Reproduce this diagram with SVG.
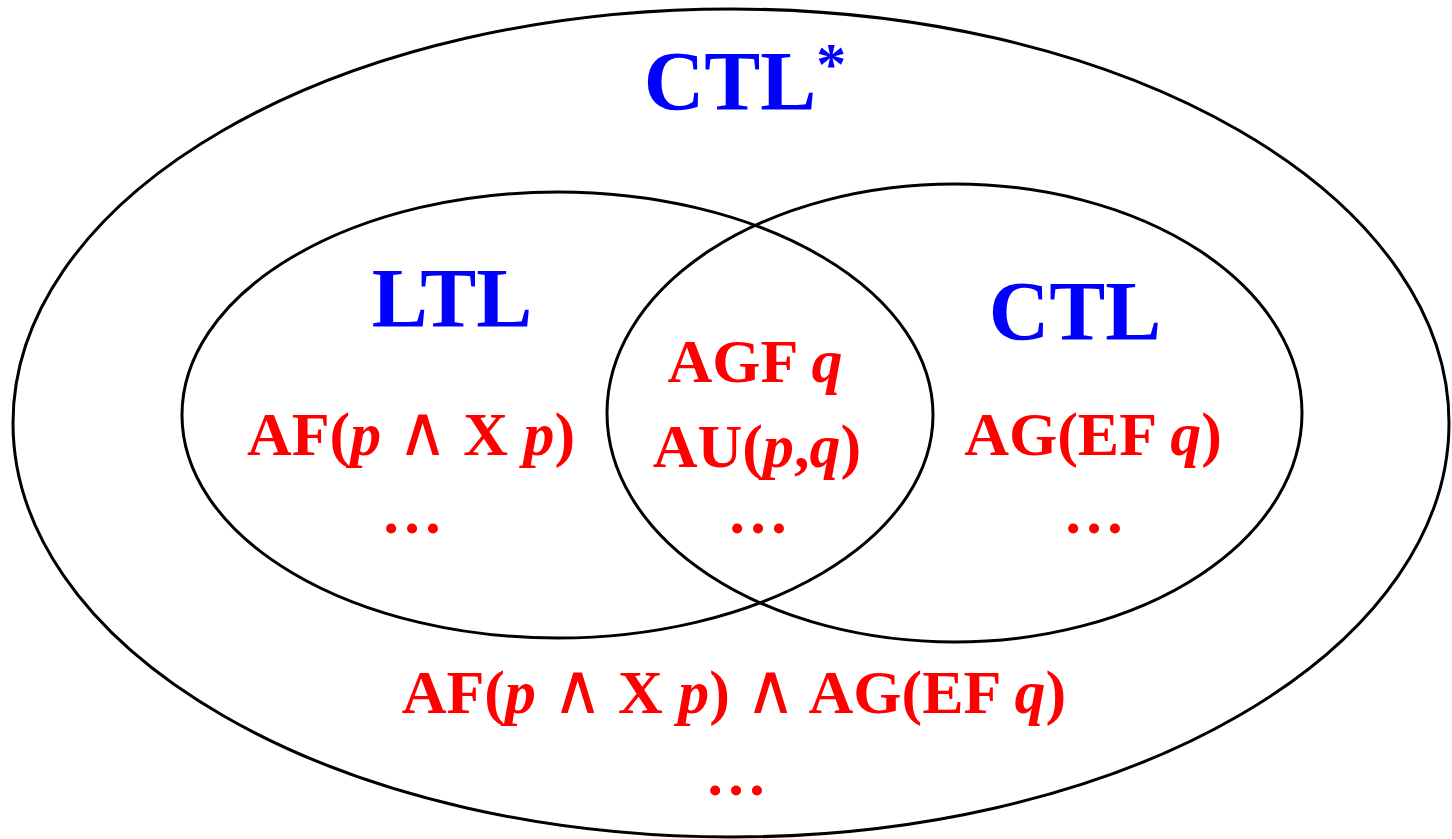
<svg xmlns="http://www.w3.org/2000/svg" width="1452" height="839" viewBox="0 0 1452 839">
<style>
.e{fill:none;stroke:#000;stroke-width:3}
.t{font-family:"Liberation Serif","Times New Roman",serif;font-weight:bold;text-anchor:middle}
.b{fill:#0000ff;font-size:84px}
.r{fill:#ff0000;font-size:62px}
.i{font-style:italic}
.o{font-family:"DejaVu Sans","Liberation Sans",sans-serif;font-weight:200;font-size:70px}
</style>
<rect width="1452" height="839" fill="#fff"/>
<g id="ctlstar">
<ellipse class="e" cx="731" cy="423" rx="718" ry="414"/>
<text class="t b" x="745" y="110">CTL<tspan font-size="60" dy="-26">*</tspan></text>
<text class="t r" x="734" y="713">AF(<tspan class="i">p</tspan> <tspan class="o">∧</tspan> X <tspan class="i">p</tspan>) <tspan class="o">∧</tspan> AG(EF <tspan class="i">q</tspan>)</text>
<text class="t r" x="736" y="795">…</text>
</g>
<g id="ltl">
<ellipse class="e" cx="557.5" cy="415" rx="375.5" ry="223"/>
<text class="t b" x="452" y="327">LTL</text>
<text class="t r" x="411" y="455">AF(<tspan class="i">p</tspan> <tspan class="o">∧</tspan> X <tspan class="i">p</tspan>)</text>
<text class="t r" x="412" y="533">…</text>
</g>
<g id="ctl">
<ellipse class="e" cx="954.5" cy="413" rx="347.5" ry="229"/>
<text class="t b" x="1075" y="340">CTL</text>
<text class="t r" x="1093" y="455">AG(EF <tspan class="i">q</tspan>)</text>
<text class="t r" x="1094" y="533">…</text>
</g>
<g id="both">
<text class="t r" x="755" y="382">AGF <tspan class="i">q</tspan></text>
<text class="t r" x="757" y="467">AU(<tspan class="i">p</tspan>,<tspan class="i">q</tspan>)</text>
<text class="t r" x="758" y="533">…</text>
</g>
<g id="connectors"/>
</svg>
